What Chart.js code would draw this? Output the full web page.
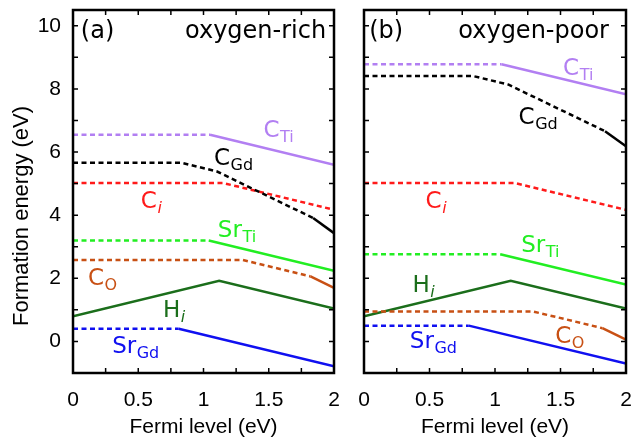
<!DOCTYPE html>
<html><head><meta charset="utf-8">
<script src="https://cdn.jsdelivr.net/npm/chart.js@4.4.0/dist/chart.umd.min.js"></script>
<style>
html,body{margin:0;padding:0;background:#fff;}
#wrap{position:relative;width:631px;height:441px;overflow:hidden;}
canvas{position:absolute;top:0;}
#ca{left:0;}
#cb{left:345px;}
</style></head><body>
<div id="wrap"><canvas id="ca" width="345" height="441"></canvas><canvas id="cb" width="295" height="441"></canvas></div>
<script>
// ---------- data (Fermi level eV, formation energy eV) ----------
const xTickLabels = [0, 0.5, 1, 1.5, 2];
const yTickLabels = [0, 2, 4, 6, 8, 10];
const panelTags = ['(a)', '(b)'];
const panelConditions = ['oxygen-rich', 'oxygen-poor'];

// oxygen-rich
const CTi_rich_dashed  = [[0, 6.55], [1.05, 6.55]];
const CTi_rich_solid   = [[1.05, 6.55], [2, 5.60]];
const CGd_rich_dashed  = [[0, 5.66], [0.83, 5.66], [1.10, 5.39], [1.84, 3.91]];
const CGd_rich_solid   = [[1.84, 3.91], [2, 3.43]];
const Ci_rich_dashed   = [[0, 5.02], [1.15, 5.02], [2, 4.17]];
const SrTi_rich_dashed = [[0, 3.20], [1.04, 3.20]];
const SrTi_rich_solid  = [[1.04, 3.20], [2, 2.24]];
const CO_rich_dashed   = [[0, 2.58], [1.30, 2.58], [1.82, 2.06]];
const CO_rich_solid    = [[1.82, 2.06], [2, 1.70]];
const Hi_rich_solid    = [[0, 0.80], [1.12, 1.92], [2, 1.04]];
const SrGd_rich_dashed = [[0, 0.40], [0.81, 0.40]];
const SrGd_rich_solid  = [[0.81, 0.40], [2, -0.79]];

// oxygen-poor
const CTi_poor_dashed  = [[0, 8.78], [1.05, 8.78]];
const CTi_poor_solid   = [[1.05, 8.78], [2, 7.83]];
const CGd_poor_dashed  = [[0, 8.41], [0.83, 8.41], [1.10, 8.14], [1.84, 6.66]];
const CGd_poor_solid   = [[1.84, 6.66], [2, 6.18]];
const Ci_poor_dashed   = [[0, 5.02], [1.15, 5.02], [2, 4.17]];
const SrTi_poor_dashed = [[0, 2.76], [1.04, 2.76]];
const SrTi_poor_solid  = [[1.04, 2.76], [2, 1.80]];
const CO_poor_dashed   = [[0, 0.95], [1.29, 0.95], [1.82, 0.42]];
const CO_poor_solid    = [[1.82, 0.42], [2, 0.06]];
const Hi_poor_solid    = [[0, 0.80], [1.12, 1.92], [2, 1.04]];
const SrGd_poor_dashed = [[0, 0.50], [0.80, 0.50]];
const SrGd_poor_solid  = [[0.80, 0.50], [2, -0.70]];

// ---------- styles ----------
const COL = { CTi:'#b27ff2', CGd:'#000000', Ci:'#ff1a1a', SrTi:'#22ee22', CO:'#c85014', Hi:'#1b6e1b', SrGd:'#1010f0' };
const AX_FONT = 'Liberation Sans';
const LBL_FONT = 'DejaVu Sans';

function seg(points, color, dashed) {
  return {
    data: points.map(p => ({x: p[0], y: p[1]})),
    borderColor: color, backgroundColor: color,
    borderWidth: 2.5, borderDash: dashed ? [5, 3.5] : [],
    borderCapStyle: 'butt', pointRadius: 0, fill: false, tension: 0
  };
}

// label anchors (data coords: left edge, baseline)
const richLabels = [
  {m:'C',  s:'Ti', it:false, x:1.46, y:6.47, c:COL.CTi},
  {m:'C',  s:'Gd', it:false, x:1.08, y:5.58, c:COL.CGd},
  {m:'C',  s:'i',  it:true,  x:0.52, y:4.22, c:COL.Ci},
  {m:'Sr', s:'Ti', it:false, x:1.11, y:3.30, c:COL.SrTi},
  {m:'C',  s:'O',  it:false, x:0.115,y:1.79, c:COL.CO},
  {m:'H',  s:'i',  it:true,  x:0.69, y:0.78, c:COL.Hi},
  {m:'Sr', s:'Gd', it:false, x:0.30, y:-0.36,c:COL.SrGd}
];
const poorLabels = [
  {m:'C',  s:'Ti', it:false, x:1.52, y:8.45, c:COL.CTi},
  {m:'C',  s:'Gd', it:false, x:1.18, y:6.90, c:COL.CGd},
  {m:'C',  s:'i',  it:true,  x:0.47, y:4.22, c:COL.Ci},
  {m:'Sr', s:'Ti', it:false, x:1.20, y:2.83, c:COL.SrTi},
  {m:'H',  s:'i',  it:true,  x:0.37, y:1.57, c:COL.Hi},
  {m:'C',  s:'O',  it:false, x:1.46, y:-0.04,c:COL.CO},
  {m:'Sr', s:'Gd', it:false, x:0.35, y:-0.20,c:COL.SrGd}
];

const framePlugin = {
  id: 'frameTicks',
  afterDatasetsDraw(chart, args, opts) {
    const {ctx, chartArea: a, scales: {x, y}} = chart;
    ctx.save();
    ctx.strokeStyle = '#000'; ctx.lineWidth = 1.5; ctx.setLineDash([]);
    ctx.beginPath();
    for (const t of x.ticks) {
      const px = x.getPixelForValue(t.value);
      ctx.moveTo(px, a.bottom); ctx.lineTo(px, a.bottom - 5);
      ctx.moveTo(px, a.top); ctx.lineTo(px, a.top + 5);
    }
    for (const t of y.ticks) {
      const py = y.getPixelForValue(t.value);
      ctx.moveTo(a.left, py); ctx.lineTo(a.left + 5, py);
      ctx.moveTo(a.right, py); ctx.lineTo(a.right - 5, py);
    }
    ctx.stroke();
    ctx.lineWidth = 2.5;
    ctx.strokeRect(a.left, a.top, a.right - a.left, a.bottom - a.top);
    ctx.textBaseline = 'alphabetic';
    ctx.textAlign = 'left';
    for (const L of opts.items) {
      const px = x.getPixelForValue(L.x), py = y.getPixelForValue(L.y);
      ctx.fillStyle = L.c;
      ctx.font = '23px "' + LBL_FONT + '"';
      ctx.fillText(L.m, px, py);
      const w = ctx.measureText(L.m).width;
      ctx.font = (L.it ? 'italic ' : '') + '16px "' + LBL_FONT + '"';
      ctx.fillText(L.s, px + w + 0.5, py + 5);
    }
    ctx.fillStyle = '#000';
    ctx.font = '24px "' + LBL_FONT + '"';
    ctx.fillText(opts.tag, x.getPixelForValue(opts.tagX), y.getPixelForValue(9.6));
    ctx.textAlign = 'right';
    ctx.fillText(opts.cond, x.getPixelForValue(opts.condX), y.getPixelForValue(9.6));
    ctx.restore();
  }
};

function makeChart(id, datasets, items, idx, showY, padLeft, padRight) {
  return new Chart(document.getElementById(id), {
    type: 'line',
    data: { datasets },
    plugins: [framePlugin],
    options: {
      responsive: false, animation: false, devicePixelRatio: 1,
      layout: { padding: { left: padLeft, right: padRight, top: 10, bottom: 0 } },
      plugins: {
        legend: { display: false }, tooltip: { enabled: false },
        frameTicks: { items, tag: panelTags[idx], cond: panelConditions[idx],
                      tagX: idx === 0 ? 0.06 : 0.04, condX: idx === 0 ? 1.94 : 1.87 }
      },
      scales: {
        x: {
          type: 'linear', min: 0, max: 2,
          grid: { display: false, drawTicks: false }, border: { display: false },
          ticks: { stepSize: 0.25, autoSkip: false, maxRotation: 0, padding: 15, color: '#000',
                   font: { family: AX_FONT, size: 21 },
                   callback: v => xTickLabels.includes(Math.round(v * 100) / 100) ? String(v) : '' },
          title: { display: true, text: 'Fermi level (eV)', color: '#000',
                   font: { family: AX_FONT, size: 21 }, padding: { top: 0, bottom: 1 } },
          afterFit: s => { s.height = 68; s.paddingLeft = 0; s.paddingRight = 0; }
        },
        y: {
          type: 'linear', min: -1, max: 10.5,
          grid: { display: false, drawTicks: false }, border: { display: false },
          ticks: { display: showY, stepSize: 1, includeBounds: false, padding: 12, color: '#000',
                   font: { family: AX_FONT, size: 21 },
                   callback: v => yTickLabels.includes(v) ? String(v) : '' },
          title: { display: showY, text: 'Formation energy (eV)        ', color: '#000',
                   font: { family: AX_FONT, size: 22 }, padding: { top: 9, bottom: 0 } },
          afterFit: s => { s.width = showY ? 73 : 0; s.paddingTop = 0; s.paddingBottom = 0; }
        }
      }
    }
  });
}

makeChart('ca', [
  seg(CTi_rich_dashed, COL.CTi, true), seg(CTi_rich_solid, COL.CTi, false),
  seg(CGd_rich_dashed, COL.CGd, true), seg(CGd_rich_solid, COL.CGd, false),
  seg(Ci_rich_dashed, COL.Ci, true),
  seg(SrTi_rich_dashed, COL.SrTi, true), seg(SrTi_rich_solid, COL.SrTi, false),
  seg(CO_rich_dashed, COL.CO, true), seg(CO_rich_solid, COL.CO, false),
  seg(Hi_rich_solid, COL.Hi, false),
  seg(SrGd_rich_dashed, COL.SrGd, true), seg(SrGd_rich_solid, COL.SrGd, false)
], richLabels, 0, true, 0, 11);

makeChart('cb', [
  seg(CTi_poor_dashed, COL.CTi, true), seg(CTi_poor_solid, COL.CTi, false),
  seg(CGd_poor_dashed, COL.CGd, true), seg(CGd_poor_solid, COL.CGd, false),
  seg(Ci_poor_dashed, COL.Ci, true),
  seg(SrTi_poor_dashed, COL.SrTi, true), seg(SrTi_poor_solid, COL.SrTi, false),
  seg(CO_poor_dashed, COL.CO, true), seg(CO_poor_solid, COL.CO, false),
  seg(Hi_poor_solid, COL.Hi, false),
  seg(SrGd_poor_dashed, COL.SrGd, true), seg(SrGd_poor_solid, COL.SrGd, false)
], poorLabels, 1, false, 19, 14);
</script>
</body></html>
